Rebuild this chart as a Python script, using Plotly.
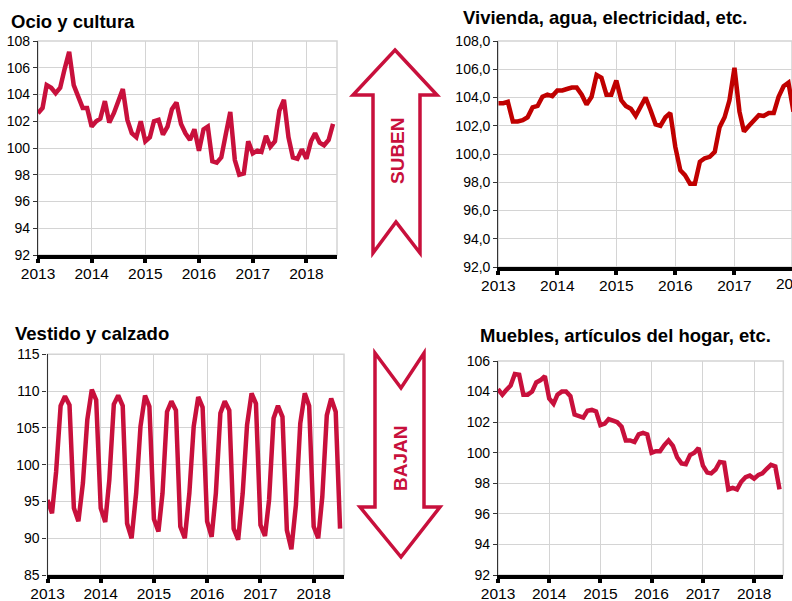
import pandas as pd
import plotly.graph_objects as go

W, H = 792, 601

# ---------------- data ----------------
months = pd.date_range("2013-01-01", periods=67, freq="MS")  # Jan 2013 .. Jul 2018
year_ticks = ["2013-01-01", "2014-01-01", "2015-01-01", "2016-01-01", "2017-01-01", "2018-01-01"]
year_labels = ["2013", "2014", "2015", "2016", "2017", "2018"]

ocio = [102.6, 103.0, 104.7, 104.5, 104.1, 104.5, 105.9, 107.2, 104.7, 103.8, 103.0, 103.0,
        101.6, 102.0, 102.2, 103.5, 101.9, 102.6, 103.5, 104.4, 102.1, 101.1, 100.8, 102.0,
        100.5, 100.8, 102.0, 102.1, 101.0, 101.6, 102.9, 103.4, 101.8, 101.1, 100.6, 101.4,
        99.8, 101.4, 101.6, 99.0, 98.9, 99.3, 101.0, 102.7, 99.1, 98.0, 98.1, 100.5,
        99.6, 99.8, 99.7, 100.9, 100.1, 100.5, 102.8, 103.6, 100.8, 99.3, 99.2, 99.9,
        99.2, 100.5, 101.1, 100.4, 100.2, 100.6, 101.8]

vivienda = [103.6, 103.6, 103.7, 102.3, 102.3, 102.4, 102.6, 103.3, 103.4, 104.05, 104.2, 104.1,
            104.5, 104.5, 104.6, 104.7, 104.7, 104.2, 103.5, 104.05, 105.6, 105.4, 104.2, 104.2,
            105.2, 103.8, 103.4, 103.2, 102.7, 103.3, 104.0, 103.1, 102.1, 102.0, 102.6, 102.9,
            100.5, 98.85, 98.5, 97.9, 97.9, 99.45, 99.7, 99.8, 100.15, 101.9, 102.6, 103.8,
            106.1, 103.0, 101.6, 102.0, 102.4, 102.75, 102.7, 102.9, 102.9, 104.05, 104.8, 105.05,
            103.0]

vestido = [95.2, 93.4, 99.0, 108.0, 109.3, 108.1, 94.1, 92.3, 97.5, 106.1, 110.2, 108.8,
           94.1, 92.2, 97.9, 108.2, 109.4, 108.0, 92.0, 90.0, 96.1, 105.2, 109.4, 107.9,
           92.6, 90.9, 96.1, 107.2, 108.6, 107.4, 91.6, 90.0, 96.1, 105.2, 109.2, 107.8,
           92.3, 90.2, 96.1, 107.0, 108.6, 107.4, 91.3, 89.8, 96.1, 105.4, 109.7, 108.3,
           91.8, 90.3, 95.2, 106.3, 108.0, 106.5, 91.1, 88.5, 94.5, 105.6, 109.7, 108.0,
           91.6, 90.0, 95.6, 106.7, 109.0, 107.2, 91.3]

muebles = [104.15, 103.8, 104.1, 104.4, 105.15, 105.1, 103.8, 103.8, 104.0, 104.6, 104.75, 105.0,
           103.55, 103.2, 103.8, 104.0, 104.0, 103.7, 102.5, 102.4, 102.3, 102.75, 102.8, 102.7,
           101.8, 101.9, 102.2, 102.1, 102.0, 101.7, 100.8, 100.8, 100.7, 101.2, 101.3, 101.2,
           100.0, 100.1, 100.1, 100.5, 100.8, 100.45, 99.7, 99.3, 99.25, 99.85, 100.0, 100.3,
           99.15, 98.7, 98.65, 98.9, 99.4, 99.35, 97.6, 97.7, 97.6, 98.1, 98.4, 98.5,
           98.3, 98.55, 98.65, 98.95, 99.2, 99.1, 97.6]

titles = ["Ocio y cultura", "Vivienda, agua, electricidad, etc.",
          "Vestido y calzado", "Muebles, artículos del hogar, etc."]

ticks_ocio = [92, 94, 96, 98, 100, 102, 104, 106, 108]
ticks_viv = [92, 94, 96, 98, 100, 102, 104, 106, 108]
ticks_viv_text = ["92,0", "94,0", "96,0", "98,0", "100,0", "102,0", "104,0", "106,0", "108,0"]
ticks_vest = [85, 90, 95, 100, 105, 110, 115]
ticks_mueb = [92, 94, 96, 98, 100, 102, 104, 106]

# ---------------- style ----------------
RED = "#C8103C"
RED2 = "#C00000"
GRID = "#D4D4D4"
FONT = "Liberation Sans, Arial, sans-serif"


def dx(p):
    return p / W


def dy(p):
    return 1 - p / H


fig = go.Figure()

panels = [
    (ocio, RED, (38, 337), (255, 41), (92, 108), ticks_ocio, None, "2018-07-28"),
    (vivienda, RED2, (498.3, 792), (267, 41), (92, 108), ticks_viv, ticks_viv_text, "2017-12-23"),
    (vestido, RED, (47.5, 344), (575, 354.3), (85, 115), ticks_vest, None, "2018-07-28"),
    (muebles, RED, (498, 783.3), (575, 361), (92, 106), ticks_mueb, None, "2018-07-28"),
]

for i, (vals, col, xd, yd, yr, tv, tt, xend) in enumerate(panels):
    n = i + 1
    xa = "x" if n == 1 else f"x{n}"
    ya = "y" if n == 1 else f"y{n}"
    fig.add_trace(go.Scatter(x=months[:len(vals)], y=vals, mode="lines",
                             line=dict(color=col, width=4.5),
                             xaxis=xa, yaxis=ya, showlegend=False, hoverinfo="skip"))
    xkey = "xaxis" if n == 1 else f"xaxis{n}"
    ykey = "yaxis" if n == 1 else f"yaxis{n}"
    fig.update_layout(**{
        xkey: dict(domain=[dx(xd[0]), min(1.0, dx(xd[1]))], anchor=ya, type="date",
                   range=["2013-01-01", xend], tickmode="array", tickvals=year_ticks,
                   ticktext=year_labels, showgrid=True, gridcolor=GRID, gridwidth=1.3,
                   showline=True, linecolor="black", linewidth=4,
                   ticks="outside", ticklen=4, tickwidth=3.5, tickcolor="black",
                   ticklabelstandoff=-3,
                   tickfont=dict(family=FONT, size=15.5, color="black"),
                   zeroline=False, fixedrange=True, automargin=False),
        ykey: dict(domain=[dy(yd[0]), dy(yd[1])], anchor=xa, range=list(yr),
                   tickmode="array", tickvals=tv, ticktext=tt if tt else [str(v) for v in tv],
                   showgrid=True, gridcolor=GRID, gridwidth=1.3,
                   showline=True, linecolor="#333333", linewidth=1.2,
                   ticks="outside", ticklen=4, tickwidth=1, tickcolor="#333333",
                   tickfont=dict(family=FONT, size=14, color="black"),
                   zeroline=False, fixedrange=True, automargin=False),
    })
    fig.add_shape(type="rect", xref=f"{xa} domain", yref=f"{ya} domain",
                  x0=0, x1=1, y0=0, y1=1, line=dict(color=GRID, width=1.5), layer="below")

# titles
title_pos = [(9, 22), (461, 18), (13, 334), (478, 336)]
for t, (tx, ty) in zip(titles, title_pos):
    fig.add_annotation(text=f"<b>{t}</b>", xref="paper", yref="paper", x=dx(tx), y=dy(ty),
                       xanchor="left", yanchor="middle", showarrow=False,
                       font=dict(family=FONT, size=18.5, color="black"))

# partially visible 2018 label of the cut-off panel
fig.add_annotation(text="2018", xref="paper", yref="paper", x=dx(793.3), y=dy(283),
                   xanchor="center", yanchor="middle", showarrow=False,
                   font=dict(family=FONT, size=15.5, color="black"))

# arrows
up = [(395, 50), (437, 95), (420, 95), (420, 253), (396, 222), (373, 253), (373, 95), (353, 95)]
down = [(375, 353), (401, 388), (424, 353), (424, 507), (440, 507), (401, 557), (360, 507), (375, 507)]
for pts in (up, down):
    path = "M " + " L ".join(f"{dx(x):.5f},{dy(y):.5f}" for x, y in pts) + " Z"
    fig.add_shape(type="path", xref="paper", yref="paper", path=path,
                  line=dict(color=RED, width=3.5), fillcolor="white")

fig.add_annotation(text="<b>SUBEN</b>", xref="paper", yref="paper", x=dx(397), y=dy(151),
                   xanchor="center", yanchor="middle",
                   textangle=-90, showarrow=False, font=dict(family=FONT, size=19, color=RED))
fig.add_annotation(text="<b>BAJAN</b>", xref="paper", yref="paper", x=dx(400), y=dy(459),
                   xanchor="center", yanchor="middle",
                   textangle=-90, showarrow=False, font=dict(family=FONT, size=19, color=RED))

fig.update_layout(width=W, height=H, margin=dict(l=0, r=0, t=0, b=0, autoexpand=False),
                  paper_bgcolor="white", plot_bgcolor="white", showlegend=False)

fig.write_html("out.html", config={"displayModeBar": False},
               post_script="document.body.style.margin='0';document.body.style.overflow='hidden';")
